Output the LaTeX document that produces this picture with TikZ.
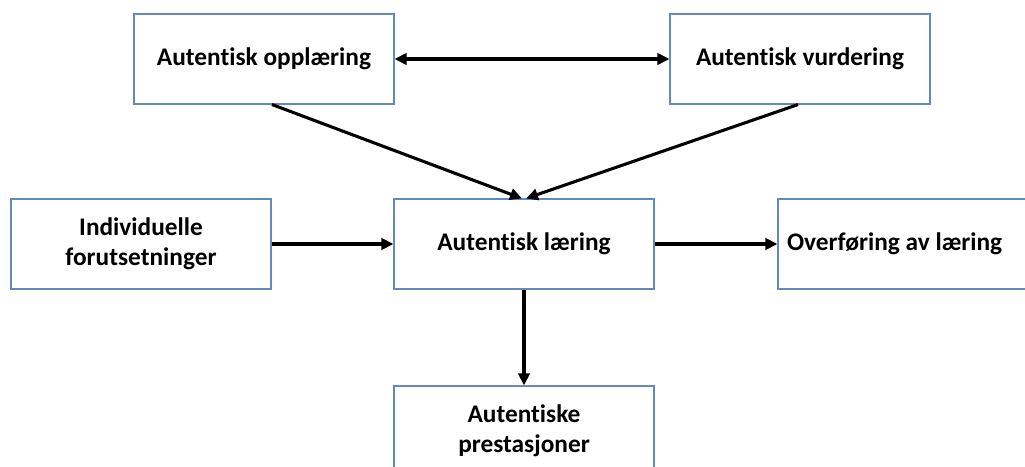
\documentclass[tikz,border=0pt]{standalone}
\usepackage{fontspec}
\setmainfont{Carlito}[Ligatures=NoCommon]
\usetikzlibrary{arrows.meta}
\definecolor{boxline}{RGB}{100,138,188}

\begin{document}
\begin{tikzpicture}[x=0.75pt,y=-0.75pt,
  box/.style={rectangle,draw=boxline,line width=0.8pt,fill=white,minimum width=195pt,minimum height=67.5pt,
              align=center,font=\fontsize{19}{22.5}\selectfont\bfseries},
  link/.style={line width=2.3pt,-{Triangle[length=9pt,width=8.5pt]}},
  twoway/.style={line width=2.3pt,{Triangle[length=9pt,width=8.5pt]}-{Triangle[length=9pt,width=8.5pt]}}]
  \clip (0,0) rectangle (1025,467);
  \path
  (264,59) node[box] (oppl) {Autentisk oppl\ae ring}
  (800,59) node[box] (vurd) {Autentisk vurdering}
  (141,244) node[box] (indiv) {Individuelle\\forutsetninger}
  (524,244) node[box] (laer) {Autentisk l\ae ring}
  (908,244) node[box] (overf) {\hspace*{-20pt}Overf\o ring av l\ae ring}
  (524,431) node[box] (prest) {Autentiske\\prestasjoner};

  \draw[twoway] (oppl) -- (vurd);
  \draw[link] (oppl.south) ++(8,0) coordinate (a1) (a1) -- ([xshift=-1.5]laer.north);
  \draw[link] (vurd.south) ++(-2,0) coordinate (a2) (a2) -- ([xshift=1.5]laer.north);
  \draw[link] (indiv) -- (laer);
  \draw[link] (laer) -- (overf);
  \draw[link] (laer) -- (prest);
\end{tikzpicture}
\end{document}
